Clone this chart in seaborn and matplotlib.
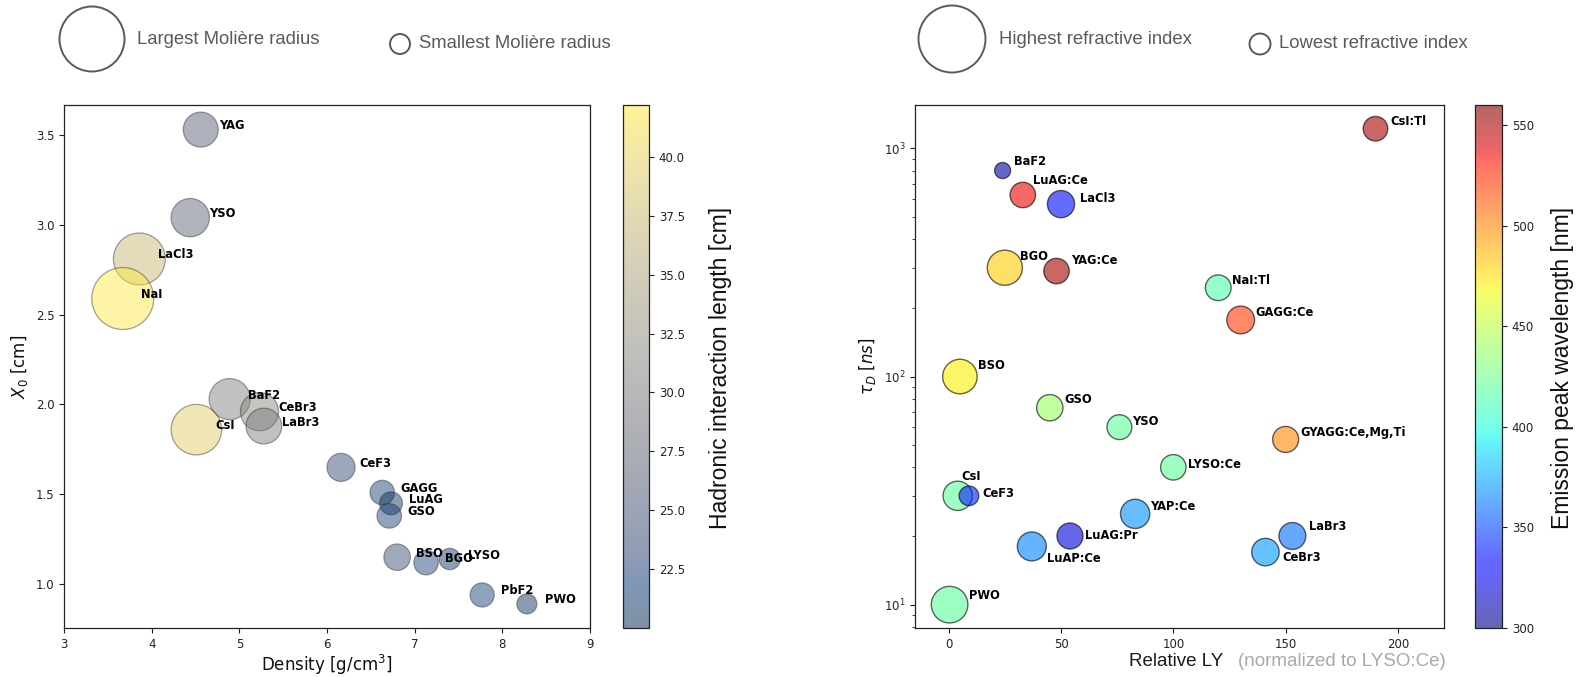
import numpy as np
import pandas as pd
import matplotlib
matplotlib.use("Agg")
import matplotlib.pyplot as plt
import seaborn as sns
from matplotlib.patches import Ellipse
from matplotlib.colors import Normalize
from matplotlib.cm import ScalarMappable
from matplotlib.ticker import FormatStrFormatter

# ---------------- data: left panel ----------------
crystals_l = ["YAG", "YSO", "LaCl3", "NaI", "BaF2", "CeBr3", "LaBr3", "CsI", "CeF3",
              "GAGG", "LuAG", "GSO", "BSO", "BGO", "LYSO", "PbF2", "PWO"]
density = [4.56, 4.44, 3.86, 3.67, 4.89, 5.23, 5.28, 4.51, 6.16,
           6.63, 6.73, 6.71, 6.80, 7.13, 7.40, 7.77, 8.28]
rad_length = [3.53, 3.04, 2.81, 2.59, 2.03, 1.96, 1.88, 1.86, 1.65,
              1.51, 1.45, 1.38, 1.15, 1.12, 1.14, 0.94, 0.89]
moliere = [2.76, 2.93, 3.62, 4.13, 3.07, 2.92, 2.80, 3.55, 2.41,
           2.23, 2.15, 2.23, 2.33, 2.23, 2.07, 2.21, 2.00]
hadronic = [26.0, 27.0, 37.3, 42.2, 30.7, 31.5, 30.4, 39.3, 23.6,
            22.2, 20.6, 22.3, 24.0, 22.5, 20.9, 22.2, 20.0]

# ---------------- data: right panel ----------------
crystals_r = ["CsI:Tl", "BaF2", "LuAG:Ce", "LaCl3", "BGO", "YAG:Ce", "NaI:Tl", "GAGG:Ce",
              "BSO", "GSO", "YSO", "GYAGG:Ce,Mg,Ti", "LYSO:Ce", "CsI", "CeF3", "YAP:Ce",
              "LaBr3", "LuAG:Pr", "LuAP:Ce", "CeBr3", "PWO"]
rel_ly = [190, 24, 33, 50, 25, 48, 120, 130,
          5, 45, 76, 150, 100, 4, 9, 83,
          153, 54, 37, 141, 0.4]
decay_time = [1220, 800, 625, 570, 300, 290, 245, 177,
              100, 73, 60, 53, 40, 30, 30, 25,
              20, 20, 18, 17, 10]
emission_nm = [550, 310, 535, 335, 480, 550, 415, 520,
               470, 440, 420, 500, 420, 420, 340, 370,
               360, 322, 365, 372, 420]
refr_index = [1.79, 1.50, 1.82, 1.88, 2.15, 1.82, 1.83, 1.90,
              2.13, 1.85, 1.80, 1.84, 1.82, 1.95, 1.62, 1.95,
              1.87, 1.84, 1.94, 1.89, 2.20]

cbar_ticks_l = [22.5, 25.0, 27.5, 30.0, 32.5, 35.0, 37.5, 40.0]
cbar_ticks_r = [300, 350, 400, 450, 500, 550]

# label offsets (pixels: right, up) for right panel labels
label_off_r = {
    "CsI:Tl": (15, 7), "BaF2": (11, 9), "LuAG:Ce": (10, 14), "LaCl3": (19, 6),
    "BGO": (15, 11), "YAG:Ce": (15, 11), "NaI:Tl": (14, 7), "GAGG:Ce": (15, 7),
    "BSO": (18, 11), "GSO": (15, 8), "YSO": (13, 6), "GYAGG:Ce,Mg,Ti": (15, 7),
    "LYSO:Ce": (15, 3), "CsI": (4, 19), "CeF3": (13, 2), "YAP:Ce": (15, 7),
    "LaBr3": (17, 9), "LuAG:Pr": (15, 0), "LuAP:Ce": (15, -12), "CeBr3": (17, -5),
    "PWO": (19, 9),
}

df_l = pd.DataFrame({"name": crystals_l, "density": density, "X0": rad_length,
                     "RM": moliere, "lamI": hadronic})
df_r = pd.DataFrame({"name": crystals_r, "LY": rel_ly, "tau": decay_time,
                     "wl": emission_nm, "n": refr_index})

# ---------------- style ----------------
sns.set_theme(style="ticks", rc={
    "xtick.major.size": 3.5, "ytick.major.size": 3.5,
    "xtick.minor.size": 2.0, "ytick.minor.size": 2.0,
    "xtick.major.width": 0.8, "ytick.major.width": 0.8,
    "xtick.minor.width": 0.6, "ytick.minor.width": 0.6,
    "axes.linewidth": 0.9, "axes.edgecolor": "#222222",
    "xtick.color": "#222222", "ytick.color": "#222222",
    "xtick.labelsize": 8.5, "ytick.labelsize": 8.5,
})
plt.rcParams['font.family'] = ['DejaVu Sans']

cmap_l = matplotlib.colormaps["cividis"]
cmap_r = matplotlib.colormaps["jet"]

W, H = 1587, 677
PX = 72 / 100.0  # points per pixel
fig = plt.figure(figsize=(W / 100, H / 100), dpi=100)


def rect(l, t, r, b):
    return [l / W, 1 - b / H, (r - l) / W, (b - t) / H]


ax1 = fig.add_axes(rect(64, 105, 590, 628))
cax1 = fig.add_axes(rect(623, 105, 649, 628))
ax2 = fig.add_axes(rect(915, 105, 1444, 628))
cax2 = fig.add_axes(rect(1475, 105, 1502, 628))

# ---------------- left panel ----------------
norm_l = Normalize(min(hadronic), max(hadronic))
size_l = ((19.7 * df_l["RM"] - 19.4) * PX) ** 2
sns.scatterplot(data=df_l, x="density", y="X0", hue="lamI", palette=cmap_l,
                hue_norm=norm_l, s=size_l.values, alpha=0.45, edgecolor="#333333",
                linewidth=0.9, legend=False, ax=ax1, zorder=3)
for _, r in df_l.iterrows():
    ax1.annotate(r["name"], (r["density"], r["X0"]), xytext=(18.5 * PX, 4 * PX),
                 textcoords="offset points", ha="left", va="center",
                 fontsize=8.3, fontweight="bold", color="black", zorder=5)
ax1.set_xlim(3, 9)
ax1.set_ylim(0.756, 3.667)
ax1.set_xticks([3, 4, 5, 6, 7, 8, 9])
ax1.set_yticks([1.0, 1.5, 2.0, 2.5, 3.0, 3.5])
ax1.yaxis.set_major_formatter(FormatStrFormatter('%.1f'))
ax1.set_xlabel("Density [g/cm$^3$]", fontsize=12, color="#111111", labelpad=1.5)
ax1.set_ylabel(r"$X_0$ [cm]", fontsize=12, color="#111111")

cb1 = fig.colorbar(ScalarMappable(norm=norm_l, cmap=cmap_l), cax=cax1, alpha=0.5)
cb1.set_ticks(cbar_ticks_l)
cb1.ax.yaxis.set_major_formatter(FormatStrFormatter('%.1f'))
cb1.ax.tick_params(labelsize=8.5, length=3.5, width=0.8)
cb1.outline.set_linewidth(0.9)

# ---------------- right panel ----------------
norm_r = Normalize(300, 560)
size_r = ((29.3 * df_r["n"] - 27.9) * PX) ** 2
sns.scatterplot(data=df_r, x="LY", y="tau", hue="wl", palette=cmap_r,
                hue_norm=norm_r, s=size_r.values, alpha=0.6, edgecolor="black",
                linewidth=1.0, legend=False, ax=ax2, zorder=3)
ax2.set_yscale("log")
for _, r in df_r.iterrows():
    dx, dy = label_off_r[r["name"]]
    ax2.annotate(r["name"], (r["LY"], r["tau"]), xytext=(dx * PX, dy * PX),
                 textcoords="offset points", ha="left", va="center",
                 fontsize=8.3, fontweight="bold", color="black", zorder=5)
ax2.set_xlim(-15, 220.5)
ax2.set_ylim(7.9, 1550)
ax2.set_xticks([0, 50, 100, 150, 200])
ax2.set_xlabel("")
ax2.set_ylabel(r"$\tau_D\ [ns]$", fontsize=12, color="#111111")

cb2 = fig.colorbar(ScalarMappable(norm=norm_r, cmap=cmap_r), cax=cax2, alpha=0.6)
cb2.set_ticks(cbar_ticks_r)
cb2.ax.tick_params(labelsize=8.5, length=3.5, width=0.8)
cb2.outline.set_linewidth(0.9)

# ---------------- overlay: size legends & labels ----------------
ov = fig.add_axes([0, 0, 1, 1], zorder=10)
ov.set_xlim(0, W)
ov.set_ylim(H, 0)
ov.set_axis_off()
ov.patch.set_visible(False)

grey = "#5a5a5a"
lfont = ["Liberation Sans", "DejaVu Sans"]
for (cx, cy, d) in [(92, 39, 65), (400, 44, 20), (952, 39, 67), (1260, 44, 21)]:
    ov.add_patch(Ellipse((cx, cy), d, d, fill=False, edgecolor=grey, linewidth=1.4))
for (tx, ty, txt) in [(137, 39, "Largest Molière radius"),
                      (419, 43, "Smallest Molière radius"),
                      (999, 39, "Highest refractive index"),
                      (1279, 43, "Lowest refractive index")]:
    ov.text(tx, ty, txt, fontsize=13.3, color=grey, ha="left", va="center", family=lfont)

ov.text(1129, 661, "Relative LY", fontsize=13.5, color="#1a1a1a", ha="left",
        va="center", family=lfont)
ov.text(1238, 661, "(normalized to LYSO:Ce)", fontsize=13.5, color="#a8a8a8",
        ha="left", va="center", family=lfont)
ov.text(720, 368, "Hadronic interaction length [cm]", fontsize=16.5, color="#111111",
        rotation=90, ha="center", va="center", family=lfont)
ov.text(1563, 368, "Emission peak wavelength [nm]", fontsize=16.5, color="#111111",
        rotation=90, ha="center", va="center", family=lfont)

fig.savefig("out.png", dpi=100)
